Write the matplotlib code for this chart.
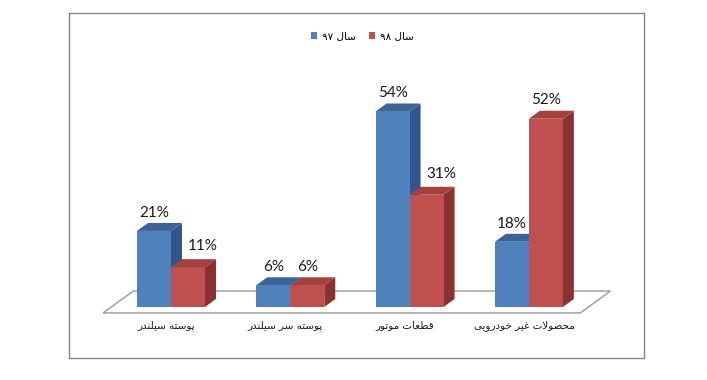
import matplotlib
matplotlib.use("Agg")
import matplotlib.pyplot as plt
from matplotlib.patches import Polygon, Patch

# ---------------- data ----------------
categories = ['پوسته سیلندر', 'پوسته سر سیلندر', 'قطعات موتور', 'محصولات غیر خودرویی']
series_names = ['سال ۹۷', 'سال ۹۸']
values_97 = [21, 6, 54, 18]
values_98 = [11, 6, 31, 52]
value_labels_97 = ['21%', '6%', '54%', '18%']
value_labels_98 = ['11%', '6%', '31%', '52%']

# ---------------- simple Persian shaping (visual order) ----------------
FORMS = {
    'ا': ('\uFE8D', '\uFE8E', None, None),
    'ب': ('\uFE8F', '\uFE90', '\uFE91', '\uFE92'),
    'پ': ('\uFB56', '\uFB57', '\uFB58', '\uFB59'),
    'ت': ('\uFE95', '\uFE96', '\uFE97', '\uFE98'),
    'ح': ('\uFEA1', '\uFEA2', '\uFEA3', '\uFEA4'),
    'خ': ('\uFEA5', '\uFEA6', '\uFEA7', '\uFEA8'),
    'د': ('\uFEA9', '\uFEAA', None, None),
    'ر': ('\uFEAD', '\uFEAE', None, None),
    'ز': ('\uFEAF', '\uFEB0', None, None),
    'س': ('\uFEB1', '\uFEB2', '\uFEB3', '\uFEB4'),
    'ص': ('\uFEB9', '\uFEBA', '\uFEBB', '\uFEBC'),
    'ط': ('\uFEC1', '\uFEC2', '\uFEC3', '\uFEC4'),
    'ع': ('\uFEC9', '\uFECA', '\uFECB', '\uFECC'),
    'غ': ('\uFECD', '\uFECE', '\uFECF', '\uFED0'),
    'ق': ('\uFED5', '\uFED6', '\uFED7', '\uFED8'),
    'ل': ('\uFEDD', '\uFEDE', '\uFEDF', '\uFEE0'),
    'م': ('\uFEE1', '\uFEE2', '\uFEE3', '\uFEE4'),
    'ن': ('\uFEE5', '\uFEE6', '\uFEE7', '\uFEE8'),
    'ه': ('\uFEE9', '\uFEEA', '\uFEEB', '\uFEEC'),
    'و': ('\uFEED', '\uFEEE', None, None),
    'ی': ('\uFBFC', '\uFBFD', '\uFBFE', '\uFBFF'),
}


def _joins_left(c):
    return c in FORMS and FORMS[c][2] is not None


def shape_word(word):
    out = []
    chars = list(word)
    i = 0
    while i < len(chars):
        c = chars[i]
        if c not in FORMS:
            out.append(c)
            i += 1
            continue
        prev = chars[i - 1] if i > 0 else None
        jp = prev is not None and _joins_left(prev)
        nxt = chars[i + 1] if i + 1 < len(chars) else None
        if c == 'ل' and nxt == 'ا':
            out.append('\uFEFC' if jp else '\uFEFB')
            i += 2
            continue
        jn = _joins_left(c) and nxt in FORMS
        iso, fin, ini, med = FORMS[c]
        if jp and jn:
            out.append(med)
        elif jp:
            out.append(fin)
        elif jn:
            out.append(ini)
        else:
            out.append(iso)
        i += 1
    return ''.join(out)


def rtl(text):
    words = text.split(' ')
    vis = []
    for w in words:
        if any(ch in FORMS for ch in w):
            vis.append(shape_word(w)[::-1])
        else:
            vis.append(w)
    return ' '.join(vis[::-1])


# ---------------- figure ----------------
W, H = 707, 380
fig = plt.figure(figsize=(W / 100, H / 100), dpi=100)
ax = fig.add_axes([69 / W, 1 - 358 / H, 575 / W, 345 / H])
ax.set_xlim(-0.855, 3.965)
ax.set_ylim(-14.1, 81.2)
for sp in ax.spines.values():
    sp.set_color('#868686')
    sp.set_linewidth(1.0)
ax.set_xticks([])
ax.set_yticks([])

bar_w = 0.285
DX, DY = 0.092, 2.2          # oblique depth of a bar
floor_front, floor_back = -0.75, 2.0   # floor depth as multiples of bar depth

# floor
n = len(categories)
fl, fr = -0.5, n - 0.5
floor = Polygon([
    (fl + floor_front * DX, floor_front * DY),
    (fr + floor_front * DX, floor_front * DY),
    (fr + floor_back * DX, floor_back * DY),
    (fl + floor_back * DX, floor_back * DY),
], closed=True, facecolor='white', edgecolor='#9a9a9a', linewidth=1.0, zorder=1)
ax.add_patch(floor)

palettes = [
    dict(front='#4F81BD', top='#3D6496', side='#33558A'),
    dict(front='#C0504D', top='#A4403D', side='#893331'),
]
series = [values_97, values_98]
labels = [value_labels_97, value_labels_98]

z = 2
for i in range(n):
    for s in range(2):
        v = series[s][i]
        x0 = i - bar_w + s * bar_w
        x1 = x0 + bar_w
        pal = palettes[s]
        side = Polygon([(x1, 0), (x1 + DX, DY), (x1 + DX, v + DY), (x1, v)],
                       closed=True, facecolor=pal['side'], edgecolor='none', zorder=z)
        top = Polygon([(x0, v), (x1, v), (x1 + DX, v + DY), (x0 + DX, v + DY)],
                      closed=True, facecolor=pal['top'], edgecolor='none', zorder=z)
        front = Polygon([(x0, 0), (x1, 0), (x1, v), (x0, v)],
                        closed=True, facecolor=pal['front'], edgecolor='none', zorder=z)
        for p in (side, top, front):
            ax.add_patch(p)
        z += 1
        lx = (x0 + x1) / 2
        ly = v + DY + 0.9
        # a second-series label that would collide with a taller first bar moves right
        if s == 1 and series[0][i] > v:
            lx += 0.12
            ly += 0.8
        ax.text(lx, ly, labels[s][i], ha='center', va='bottom',
                fontsize=11, family=['Lato', 'DejaVu Sans'], color='#1a1a1a', zorder=50)

for i, c in enumerate(categories):
    ax.text(i - 0.04, -5.0, rtl(c), ha='center', va='center', fontsize=7.5,
            family=['DejaVu Sans'], color='#1a1a1a')

handles = [Patch(facecolor=palettes[0]['front'], edgecolor='none'),
           Patch(facecolor=palettes[1]['front'], edgecolor='none')]
leg = ax.legend(handles, [rtl(t) for t in series_names], loc='center',
                bbox_to_anchor=(0.51, 0.933), ncol=2, frameon=False,
                handlelength=0.6, handleheight=0.6, handletextpad=0.5,
                columnspacing=1.2, prop={'family': ['DejaVu Sans'], 'size': 7.5})

fig.savefig('out.png', dpi=100)
